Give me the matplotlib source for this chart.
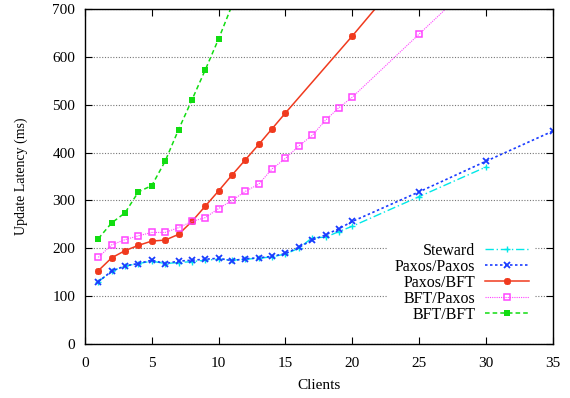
import numpy as np
import matplotlib.pyplot as plt

plt.rcParams['font.family'] = ['Liberation Serif', 'DejaVu Serif']

steward_x = [1, 2, 3, 4, 5, 6, 7, 8, 9, 10, 11, 12, 13, 14, 15, 16, 17, 18, 19, 20, 25, 30]
steward_y = [130, 152, 163, 168, 173, 168, 170, 172, 175, 177, 175, 177, 179, 182, 188, 200,
             222, 223, 235, 246, 308, 370]

pp_x = [1, 2, 3, 4, 5, 6, 7, 8, 9, 10, 11, 12, 13, 14, 15, 16, 17, 18, 19, 20, 25, 30, 35]
pp_y = [130, 152, 163, 168, 175, 168, 173, 175, 177, 179, 174, 178, 180, 183, 189, 202,
        217, 228, 241, 256, 318, 382, 445]

pb_x = [1, 2, 3, 4, 5, 6, 7, 8, 9, 10, 11, 12, 13, 14, 15, 20, 25]
pb_y = [153, 180, 195, 206, 215, 217, 229, 256, 288, 320, 353, 385, 417, 450, 483, 644, 810]

bp_x = [1, 2, 3, 4, 5, 6, 7, 8, 9, 10, 11, 12, 13, 14, 15, 16, 17, 18, 19, 20, 25, 30]
bp_y = [181, 207, 218, 226, 233, 233, 243, 256, 264, 283, 300, 319, 334, 366, 388, 414,
        436, 468, 494, 516, 648, 780]

bb_x = [1, 2, 3, 4, 5, 6, 7, 8, 9, 10, 11]
bb_y = [220, 253, 274, 318, 331, 382, 448, 510, 573, 638, 708]

fig = plt.figure(figsize=(5.7, 3.98), dpi=100)
ax = fig.add_axes([0.149, 0.136, 0.821, 0.841])

ax.plot(steward_x, steward_y, color='#00e8e8', linestyle=(0, (6, 2, 1, 2)), lw=1,
        marker='+', ms=5, mew=1, label='Steward')
ax.plot(pp_x, pp_y, color='#1a3cff', linestyle=(0, (1.5, 1.5)), lw=1.2,
        marker='x', ms=4, mew=1.3, label='Paxos/Paxos')
ax.plot(pb_x, pb_y, color='#f03a1e', linestyle='-', lw=1.1,
        marker=(8, 2, 0), ms=5, mew=1.3, label='Paxos/BFT')
ax.plot(bp_x, bp_y, color='#ff44ff', linestyle=(0, (1, 1)), lw=0.8,
        marker='s', ms=4.5, mew=1.1, mfc='none', label='BFT/Paxos')
ax.plot(bb_x, bb_y, color='#11dd11', linestyle=(0, (3, 2)), lw=1.1,
        marker='s', ms=5, mew=0, label='BFT/BFT')

ax.set_xlim(0, 35)
ax.set_ylim(0, 700)
ax.set_xticks(range(0, 36, 5))
ax.set_yticks(range(0, 701, 100))
ax.yaxis.grid(True, color='#777777', linestyle=(0, (1, 1.5)), lw=0.8)
ax.set_axisbelow(True)
ax.tick_params(direction='in', top=True, right=True, labelsize=11, length=5)
ax.tick_params(axis='x', pad=9.5)
ax.tick_params(axis='y', pad=7)
for s in ax.spines.values():
    s.set_linewidth(1)

ax.set_xlabel('Clients', fontsize=11)
ax.set_ylabel('Update Latency (ms)', fontsize=10)
ax.yaxis.set_label_coords(-0.122, 0.5)
ax.xaxis.set_label_coords(0.5, -0.105)

leg = ax.legend(loc='lower right', bbox_to_anchor=(0.979, 0.02), markerfirst=False,
                fontsize=11.5, handlelength=2.75, handletextpad=0.6, labelspacing=0.0,
                frameon=True, fancybox=False, framealpha=1, borderpad=0.4)
leg.get_frame().set_edgecolor('none')
for t in leg.get_texts():
    t.set_ha('right')

fig.savefig('out.png', dpi=100)
